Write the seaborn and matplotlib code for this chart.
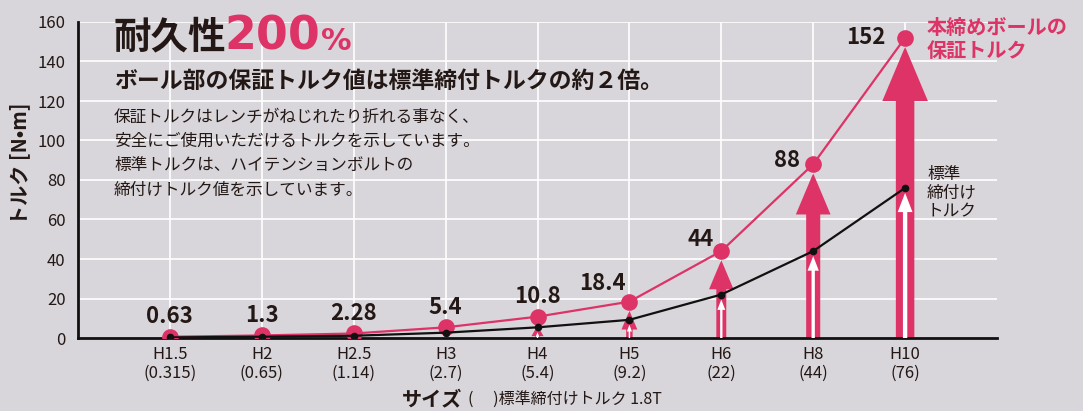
import numpy as np
import pandas as pd
import matplotlib
matplotlib.use("Agg")
import matplotlib.pyplot as plt
from matplotlib.patches import FancyArrowPatch, ArrowStyle
import seaborn as sns

# ---- data ----
sizes = ["H1.5", "H2", "H2.5", "H3", "H4", "H5", "H6", "H8", "H10"]
guaranteed_torque = [0.63, 1.3, 2.28, 5.4, 10.8, 18.4, 44, 88, 152]
standard_torque = [0.315, 0.65, 1.14, 2.7, 5.4, 9.2, 22, 44, 76]
y_ticks = [0, 20, 40, 60, 80, 100, 120, 140, 160]

PINK = "#DD3367"
DARK = "#231815"
BG = "#D8D6DA"

sns.set_theme(style="white")
plt.rcParams["font.family"] = ["Noto Sans CJK JP", "DejaVu Sans"]

W, H = 1083, 411
fig = plt.figure(figsize=(W / 100, H / 100), dpi=100, facecolor=BG)
ax = fig.add_axes([78 / W, (H - 338) / H, (997 - 78) / W, (338 - 22) / H])
ax.set_facecolor(BG)

x = np.arange(len(sizes))
df = pd.DataFrame({"x": x, "g": guaranteed_torque, "s": standard_torque})

ax.set_xlim(-1, len(sizes))
ax.set_ylim(0, 160)

# grid
for yv in y_ticks[1:]:
    ax.axhline(yv, color="white", lw=1.2, zorder=0)
for xv in x:
    ax.axvline(xv, color="white", lw=1.2, zorder=0)

fig.canvas.draw()
px2pt = 72 / fig.dpi


def arrow(xv, v, tip_px, tw, hw, hl, color, z):
    p0 = ax.transData.transform((xv, 0))
    p1 = ax.transData.transform((xv, v))
    length = p1[1] - p0[1] - tip_px
    if length <= 3:
        return
    hl = min(hl, 0.85 * length)
    style = ArrowStyle.Simple(head_length=hl * px2pt, head_width=hw * px2pt,
                              tail_width=tw * px2pt)
    a = FancyArrowPatch((xv, 0), (xv, v), arrowstyle=style, mutation_scale=1,
                        shrinkA=0, shrinkB=tip_px * px2pt, color=color,
                        lw=0, zorder=z)
    ax.add_patch(a)


for xv, g, s in zip(x, guaranteed_torque, standard_torque):
    r = np.sqrt(g)
    arrow(xv, g, 9, 1.5 * r, 3.7 * r, 4.4 * r, PINK, 2)
    rs = np.sqrt(s)
    arrow(xv, s, 5, 0.5 * rs, 1.7 * rs, 2.2 * rs, "white", 3)

sns.lineplot(data=df, x="x", y="g", ax=ax, color=PINK, lw=1.6, marker="o",
             markersize=12, markeredgewidth=0, zorder=4)
sns.lineplot(data=df, x="x", y="s", ax=ax, color="#111111", lw=1.6, marker="o",
             markersize=5.5, markeredgewidth=0, zorder=5)

# value labels
offsets = [(0, 20), (0, 20), (0, 20), (0, 20), (0, 20),
           (-4, 18), (-8, 12), (-13, 4), (-20, 0)]
for i, (xv, g) in enumerate(zip(x, guaranteed_torque)):
    dx, dy = offsets[i]
    ha = "center" if dx == 0 else "right"
    ax.annotate(f"{g:g}", (xv, g), xytext=(dx * px2pt, dy * px2pt),
                textcoords="offset points", ha=ha, va="center",
                fontsize=16, fontweight="bold", color=DARK, zorder=6)

# axes styling
ax.set_yticks(y_ticks)
ax.set_yticklabels([str(t) for t in y_ticks], fontsize=12, color=DARK)
ax.set_xticks(x)
ax.set_xticklabels([f"{n}\n({s:g})" for n, s in zip(sizes, standard_torque)],
                   fontsize=12, color=DARK, linespacing=1.15)
ax.tick_params(axis="both", length=0)
ax.tick_params(axis="y", pad=9)
ax.tick_params(axis="x", pad=6)
ax.set_xlabel("")
ax.set_ylabel("")
for side in ["top", "right"]:
    ax.spines[side].set_visible(False)
for side in ["left", "bottom"]:
    ax.spines[side].set_color("#111111")
    ax.spines[side].set_linewidth(2)

# y label
fig.text(20 / W, 1 - 164 / H, "トルク [N•m]", rotation=90, ha="center",
         va="center", fontsize=14.5, fontweight="bold", color=DARK)

# x label
fig.text(462 / W, 1 - 399 / H, "サイズ", ha="right", va="center",
         fontsize=14.5, fontweight="bold", color=DARK)
fig.text(468 / W, 1 - 399 / H, "(　 )標準締付けトルク 1.8T", ha="left",
         va="center", fontsize=11.5, color=DARK)

# titles
fig.text(114 / W, 1 - 37 / H, "耐久性", ha="left", va="center",
         fontsize=27, fontweight="bold", color=DARK)
t200 = fig.text(224 / W, 1 - 37 / H, "200", ha="left", va="center",
                fontsize=33, fontweight="bold", color=PINK,
                family=["DejaVu Sans"])
fig.canvas.draw()
bb = t200.get_window_extent()
fig.text((bb.x1 + 1) / W, 1 - 42 / H, "%", ha="left", va="center",
         fontsize=22, fontweight="bold", color=PINK, family=["DejaVu Sans"])
fig.text(114 / W, 1 - 81 / H, "ボール部の保証トルク値は標準締付トルクの約２倍。",
         ha="left", va="center", fontsize=16.5, fontweight="bold", color=DARK)
fig.text(114 / W, 1 - 109 / H,
         "保証トルクはレンチがねじれたり折れる事なく、\n"
         "安全にご使用いただけるトルクを示しています。\n"
         "標準トルクは、ハイテンションボルトの\n"
         "締付けトルク値を示しています。",
         ha="left", va="top", fontsize=12, color=DARK, linespacing=1.55)

# series annotations
fig.text(927 / W, 1 - 39 / H, "本締めボールの\n保証トルク", ha="left",
         va="center", fontsize=14.5, fontweight="bold", color=PINK,
         linespacing=1.1)
fig.text(927 / W, 1 - 193 / H, "標準\n締付け\nトルク", ha="left", va="center",
         fontsize=12, color=DARK, linespacing=1.15)

fig.savefig("out.png", dpi=100, facecolor=BG)
